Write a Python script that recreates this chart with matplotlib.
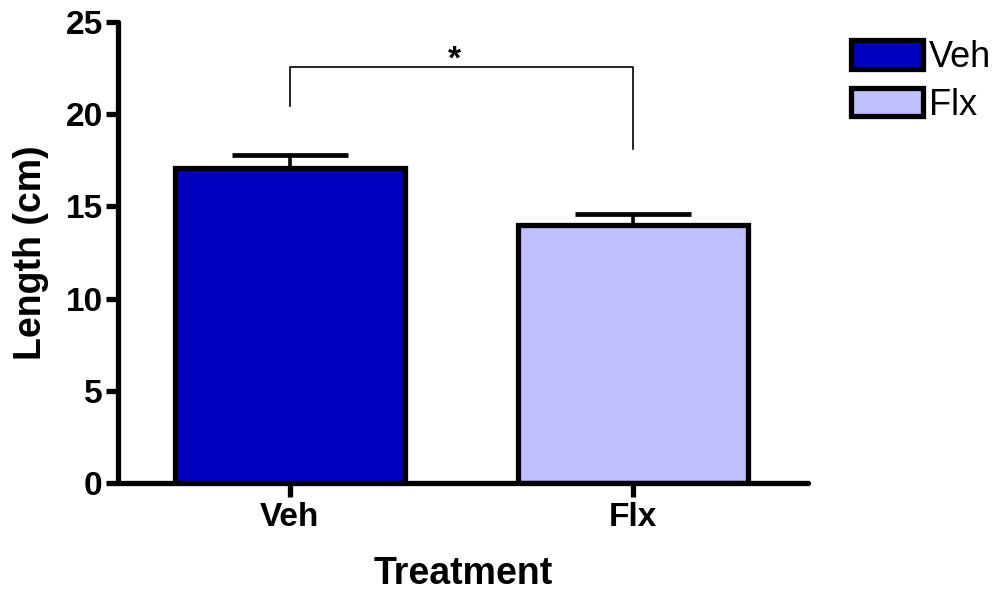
import matplotlib
matplotlib.use("Agg")
import matplotlib.pyplot as plt
from matplotlib.patches import Patch

plt.rcParams['font.family'] = ['Liberation Sans', 'DejaVu Sans']

groups = ["Veh", "Flx"]
means = [17.08, 13.99]
sem = [0.71, 0.60]
colors = ["#0000C0", "#C0C0FF"]
yticks = [0, 5, 10, 15, 20, 25]
sig_label = "*"
bracket_y = 22.56
bracket_ends = [20.45, 18.1]

fig = plt.figure(figsize=(10.07, 5.92), dpi=100)
ax = fig.add_axes([0.1172, 0.1841, 0.6852, 0.7787])

x = list(range(len(groups)))
ax.bar(x, means, width=0.67, color=colors, edgecolor="black", linewidth=3.8, zorder=2)
# upward-only error bars
ax.errorbar(x, means, yerr=[[0] * len(sem), sem], fmt="none", ecolor="black",
            elinewidth=2.6, capsize=42, capthick=3.4, zorder=3)

# significance bracket
ax.plot([x[0], x[0], x[1], x[1]],
        [bracket_ends[0], bracket_y, bracket_y, bracket_ends[1]],
        color="black", linewidth=1.2, clip_on=False)
ax.text((x[0] + x[1]) / 2 - 0.02, bracket_y + 0.55, sig_label, ha="center",
        va="center_baseline", fontsize=24, fontweight="bold")

ax.set_xlim(-0.5, 1.51)
ax.set_ylim(0, 25)
ax.set_yticks(yticks)
ax.set_xticks(x)
ax.set_xticklabels(groups)

for side in ["top", "right"]:
    ax.spines[side].set_visible(False)
for side in ["left", "bottom"]:
    ax.spines[side].set_linewidth(3.8)
    ax.spines[side].set_capstyle("round")

ax.tick_params(axis="both", width=3.8, length=9, labelsize=24, pad=2)
ax.tick_params(axis="x", length=10, pad=4)
for lab in ax.get_xticklabels() + ax.get_yticklabels():
    lab.set_fontweight("bold")
for t in ax.xaxis.get_ticklines() + ax.yaxis.get_ticklines():
    t.set_solid_capstyle("round")

ax.set_xlabel("Treatment", fontsize=27, fontweight="bold", labelpad=16)
ax.set_ylabel("Length (cm)", fontsize=27, fontweight="bold", labelpad=12)

handles = [Patch(facecolor=c, edgecolor="black", linewidth=3.8, label=g)
           for g, c in zip(groups, colors)]
fig.legend(handles=handles, loc="upper left", bbox_to_anchor=(0.831, 0.957),
           frameon=False, fontsize=26, handlelength=2.0, handleheight=0.85,
           handletextpad=0.15, labelspacing=0.35, borderaxespad=0)

fig.savefig("out.png", dpi=100)
